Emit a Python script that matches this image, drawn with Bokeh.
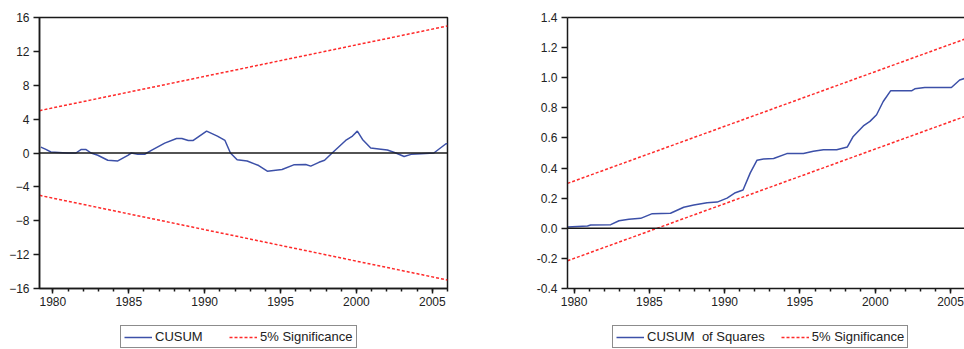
from bokeh.plotting import figure
from bokeh.models import (Range1d, FixedTicker, PrintfTickFormatter, Span, Legend,
                          LegendItem, LinearAxis)
from bokeh.layouts import row, column
from bokeh.embed import file_html
from bokeh.resources import INLINE

# ---------------- data ----------------
cusum_years = [1979.21, 1979.54, 1979.87, 1980.64, 1981.0, 1981.52, 1981.85, 1982.19,
               1982.52, 1982.96, 1983.62, 1984.28, 1984.94, 1985.17, 1985.6, 1986.05,
               1986.49, 1987.37, 1988.15, 1988.5, 1988.92, 1989.25, 1990.13, 1990.84,
               1991.34, 1991.7, 1992.14, 1992.8, 1993.56, 1994.13, 1995.1, 1995.87,
               1996.66, 1996.99, 1997.53, 1997.9, 1998.4, 1999.29, 1999.74, 2000.06,
               2000.4, 2000.94, 2001.61, 2002.04, 2002.6, 2003.14, 2003.6, 2004.26,
               2005.1, 2005.9, 2006.0]
cusum = [0.7, 0.43, 0.12, 0.04, 0.0, 0.0, 0.4, 0.4,
         0.0, -0.27, -0.86, -0.94, -0.27, 0.0, -0.15, -0.15,
         0.3, 1.17, 1.72, 1.72, 1.48, 1.48, 2.58, 2.0,
         1.48, 0.0, -0.8, -0.95, -1.48, -2.15, -1.95, -1.4,
         -1.35, -1.55, -1.1, -0.86, 0.0, 1.48, 2.0, 2.58,
         1.6, 0.6, 0.45, 0.35, 0.0, -0.42, -0.16, -0.08,
         0.0, 1.09, 1.1]
cusum_sig_years = [1979.12, 2006.0]
cusum_upper = [5.0, 15.0]
cusum_lower = [-5.0, -15.0]

sq_years = [1979.56, 1980.89, 1981.1, 1982.43, 1982.98, 1983.64, 1984.42, 1985.19,
            1986.4, 1987.28, 1987.95, 1988.83, 1989.5, 1990.16, 1990.71, 1991.22,
            1991.7, 1992.15, 1992.58, 1993.25, 1994.13, 1995.23, 1995.89, 1996.56,
            1997.44, 1998.15, 1998.54, 1999.21, 1999.65, 2000.09, 2000.53, 2001.02,
            2002.41, 2002.63, 2003.29, 2005.06, 2005.61, 2006.1]
cusum_sq = [0.009, 0.015, 0.022, 0.024, 0.05, 0.06, 0.066, 0.097,
            0.1, 0.14, 0.154, 0.17, 0.174, 0.2, 0.236, 0.254,
            0.368, 0.452, 0.46, 0.463, 0.496, 0.496, 0.511, 0.522,
            0.522, 0.54, 0.61, 0.68, 0.71, 0.754, 0.842, 0.913,
            0.913, 0.926, 0.935, 0.935, 0.985, 1.0]
sq_sig_years = [1979.56, 2006.1]
sq_upper = [0.298, 1.262]
sq_lower = [-0.216, 0.748]

year_ticks = [1980, 1985, 1990, 1995, 2000, 2005]
year_minor = list(range(1979, 2007))
cusum_ticks = [-16, -12, -8, -4, 0, 4, 8, 12, 16]
sq_ticks = [-0.4, -0.2, 0.0, 0.2, 0.4, 0.6, 0.8, 1.0, 1.2, 1.4]

legend_left = ["CUSUM", "5% Significance"]
legend_right = ["CUSUM  of Squares", "5% Significance"]

BLUE = "#3c50a8"
RED = "#ff2a2a"
FONT = "Liberation Sans"
TXT = "#222222"
SIG_DASH = "3 2"


def style_axes(p):
    for ax in p.xaxis + p.yaxis:
        ax.axis_line_color = "#1a1a1a"
        ax.axis_line_width = 1.5
        ax.major_tick_line_color = "#1a1a1a"
        ax.major_tick_line_width = 1.5
        ax.minor_tick_line_color = "#1a1a1a"
        ax.minor_tick_line_width = 1.5
        ax.major_tick_in = 0
        ax.minor_tick_in = 0
        ax.major_label_text_font = FONT
        ax.major_label_text_font_size = "12px"
        ax.major_label_text_color = TXT
    p.xaxis.major_tick_out = 5
    p.xaxis.minor_tick_out = 3
    p.xaxis.major_label_standoff = 3
    p.yaxis.major_tick_out = 6
    p.yaxis.minor_tick_line_color = None
    p.yaxis.major_label_standoff = 4
    p.xaxis.ticker = FixedTicker(ticks=year_ticks, minor_ticks=year_minor)
    p.grid.visible = False


def legend_fig(width, labels, x_off, label_w):
    f = figure(width=width, height=26, output_backend="svg", toolbar_location=None,
               x_axis_type=None, y_axis_type=None, x_range=Range1d(0, 1),
               y_range=Range1d(0, 1), min_border=0)
    f.outline_line_color = None
    f.grid.visible = False
    # legend-only renderers, placed outside the visible range
    r1 = f.line([5, 6], [5, 6], line_color=BLUE, line_width=1.5)
    r2 = f.line([5, 6], [5, 6], line_color=RED, line_width=1.5, line_dash=SIG_DASH)
    leg = Legend(items=[LegendItem(label=labels[0], renderers=[r1]),
                        LegendItem(label=labels[1], renderers=[r2])],
                 location=(x_off, 1), orientation="horizontal")
    leg.border_line_color = "#1a1a1a"
    leg.border_line_width = 1.5
    leg.background_fill_color = "white"
    leg.background_fill_alpha = 1
    leg.label_text_font = FONT
    leg.label_text_font_size = "13px"
    leg.label_text_color = TXT
    leg.label_width = label_w
    leg.glyph_width = 28
    leg.glyph_height = 12
    leg.label_height = 12
    leg.label_standoff = 3
    leg.padding = 3
    leg.spacing = 16
    leg.margin = 0
    f.add_layout(leg)
    return f


# ---------------- left: CUSUM ----------------
p1 = figure(width=500, height=323, output_backend="svg", toolbar_location=None,
            x_range=Range1d(1979.12, 2006.0), y_range=Range1d(-16, 16),
            min_border_left=39, min_border_right=53, min_border_top=16,
            min_border_bottom=35)
p1.outline_line_color = "#1a1a1a"
p1.outline_line_width = 1.5
p1.add_layout(Span(location=0, dimension="width", line_color="#1a1a1a", line_width=1.5))
p1.line(cusum_years, cusum, line_color=BLUE, line_width=1.5)
p1.line(cusum_sig_years, cusum_upper, line_color=RED, line_width=1.5, line_dash=SIG_DASH)
p1.line(cusum_sig_years, cusum_lower, line_color=RED, line_width=1.5, line_dash=SIG_DASH)
style_axes(p1)
p1.yaxis.ticker = FixedTicker(ticks=cusum_ticks)

# ---------------- right: CUSUM of squares ----------------
p2 = figure(width=464, height=323, output_backend="svg", toolbar_location=None,
            x_range=Range1d(1979.56, 2005.93), y_range=Range1d(-0.4, 1.4),
            min_border_left=67, min_border_right=0, min_border_top=17,
            min_border_bottom=34)
p2.outline_line_color = None
p2.add_layout(Span(location=0, dimension="width", line_color="#1a1a1a", line_width=1.5))
p2.line(sq_years, cusum_sq, line_color=BLUE, line_width=1.5)
p2.line(sq_sig_years, sq_upper, line_color=RED, line_width=1.5, line_dash=SIG_DASH)
p2.line(sq_sig_years, sq_lower, line_color=RED, line_width=1.5, line_dash=SIG_DASH)
style_axes(p2)
p2.yaxis.ticker = FixedTicker(ticks=sq_ticks)
p2.yaxis.formatter = PrintfTickFormatter(format="%.1f")
top_axis = LinearAxis(ticker=FixedTicker(ticks=[]), major_tick_line_color=None,
                      minor_tick_line_color=None, major_label_text_font_size="0px",
                      axis_line_color="#1a1a1a", axis_line_width=1.5)
p2.add_layout(top_axis, "above")

l1 = legend_fig(500, legend_left, 120, 58)
l2 = legend_fig(464, legend_right, 112, 20)

layout = column(row(p1, p2, spacing=0), row(l1, l2, spacing=0), spacing=0)
open("out.html", "w").write(file_html(layout, INLINE))
